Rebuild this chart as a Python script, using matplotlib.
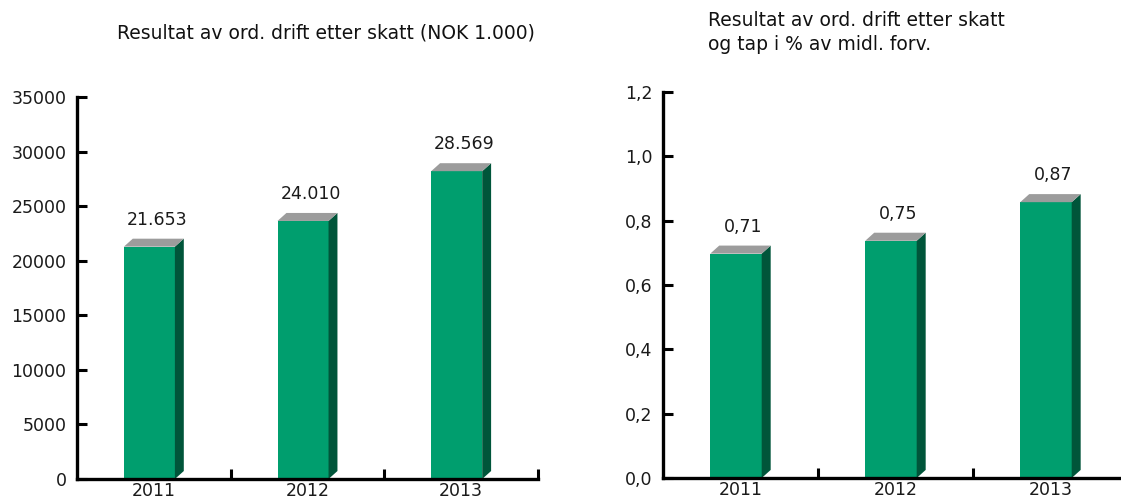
import matplotlib.pyplot as plt
from matplotlib.patches import Polygon
from matplotlib.ticker import FixedLocator

years = ['2011', '2012', '2013']
result_nok = [21653, 24010, 28569]
result_pct = [0.71, 0.75, 0.87]

left_title = 'Resultat av ord. drift etter skatt (NOK 1.000)'
right_title = 'Resultat av ord. drift etter skatt\nog tap i % av midl. forv.'

FRONT = '#009e6e'
SIDE = '#00553a'
TOP = '#9c9c9c'

plt.rcParams['font.family'] = 'DejaVu Sans'


def bar3d(ax, values, ymax, fmt):
    # front face, dark side and grey top of each bar
    dx = 0.058
    dy = ymax * 8 / 383
    for i, v in enumerate(values):
        x0 = i - 0.195
        x1 = i + 0.137
        h = v - dy / 2
        ax.add_patch(Polygon([(x0, 0), (x1, 0), (x1, h), (x0, h)],
                             closed=True, fc=FRONT, ec='none', zorder=2))
        ax.add_patch(Polygon([(x1, 0), (x1 + dx, dy), (x1 + dx, h + dy), (x1, h)],
                             closed=True, fc=SIDE, ec='none', zorder=2))
        ax.add_patch(Polygon([(x0, h), (x1, h), (x1 + dx, h + dy), (x0 + dx, h + dy)],
                             closed=True, fc=TOP, ec='none', zorder=2))
        ax.annotate(fmt(v), (i + 0.02, h + dy), xytext=(0, 7), textcoords='offset points',
                    ha='center', va='bottom', fontsize=12.5, color='#1a1a1a')


def style(ax, ymax, step, ylabel_fmt):
    ax.set_xlim(-0.5, 2.5)
    ax.set_ylim(0, ymax)
    for s in ['top', 'right']:
        ax.spines[s].set_visible(False)
    for s in ['left', 'bottom']:
        ax.spines[s].set_linewidth(2.4)
        ax.spines[s].set_capstyle('projecting')
    ticks = [k * step for k in range(int(round(ymax / step)) + 1)]
    ax.set_yticks(ticks)
    ax.set_yticklabels([ylabel_fmt(t) for t in ticks])
    ax.set_xticks(range(len(years)))
    ax.set_xticklabels(years)
    ax.xaxis.set_minor_locator(FixedLocator([0.5, 1.5, 2.5]))
    ax.tick_params(axis='x', which='major', length=0, pad=2.5, labelsize=12.5)
    ax.tick_params(axis='x', which='minor', direction='in', length=7.5, width=2.2)
    ax.tick_params(axis='y', direction='in', length=7.5, width=2.2, pad=7.5,
                   labelsize=12.5, labelcolor='#1a1a1a')
    ax.tick_params(axis='x', labelcolor='#1a1a1a')


fig = plt.figure(figsize=(11.21, 5.01), dpi=100)

ax1 = fig.add_axes([0.0687, 0.0439, 0.4112, 0.7625])
style(ax1, 35000, 5000, lambda t: f'{t:d}')
bar3d(ax1, result_nok, 35000, lambda v: f'{v:,}'.replace(',', '.'))

ax2 = fig.add_axes([0.5914, 0.0459, 0.4148, 0.7705])
style(ax2, 1.2, 0.2, lambda t: f'{t:.1f}'.replace('.', ','))
bar3d(ax2, result_pct, 1.2, lambda v: f'{v:.2f}'.replace('.', ','))

fig.text(0.291, 0.934, left_title, ha='center', va='center', fontsize=13.5, color='#111111')
fig.text(0.632, 0.935, right_title, ha='left', va='center', fontsize=13.5,
         color='#111111', linespacing=1.3)

fig.savefig('out.png', dpi=100)
